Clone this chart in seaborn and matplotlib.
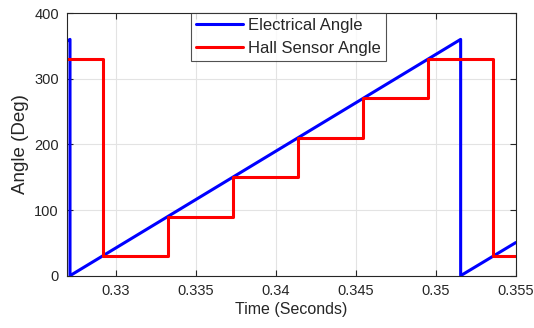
import matplotlib
matplotlib.use("Agg")
import matplotlib.pyplot as plt
from matplotlib.ticker import FuncFormatter
import seaborn as sns

# Electrical angle sawtooth (wraps 360 -> 0)
elec_time = [0.32700, 0.32713, 0.32713, 0.35155, 0.35155, 0.35500]
elec_angle = [358, 360, 0, 360, 0, 50.5]

# Hall sensor angle, 60-degree sectors held between transitions
hall_time = [0.32696, 0.32917, 0.33324, 0.33731, 0.34137, 0.34544, 0.34951, 0.35359, 0.35500]
hall_angle = [330, 30, 90, 150, 210, 270, 330, 30, 30]

x_ticks = [0.33, 0.335, 0.34, 0.345, 0.35, 0.355]
y_ticks = [0, 100, 200, 300, 400]

sns.set_style("whitegrid")
plt.rcParams["font.family"] = ["Liberation Sans", "DejaVu Sans"]

fig = plt.figure(figsize=(5.34, 3.28), dpi=100)
ax = fig.add_axes([0.126, 0.1595, 0.840, 0.8005])

sns.lineplot(x=elec_time, y=elec_angle, ax=ax, color="#0000ff", linewidth=2.2,
             sort=False, estimator=None, label="Electrical Angle")
sns.lineplot(x=hall_time, y=hall_angle, ax=ax, color="#ff0000", linewidth=2.2,
             sort=False, estimator=None, drawstyle="steps-post", label="Hall Sensor Angle")

ax.set_xlim(0.32696, 0.355)
ax.set_ylim(0, 400)
ax.set_xticks(x_ticks)
ax.set_yticks(y_ticks)
ax.xaxis.set_major_formatter(FuncFormatter(lambda v, p: f"{v:g}"))
ax.yaxis.set_major_formatter(FuncFormatter(lambda v, p: f"{v:g}"))

ax.grid(True, color="#e3e3e3", linewidth=0.8)
for s in ax.spines.values():
    s.set_visible(True)
    s.set_color("#262626")
    s.set_linewidth(0.8)
ax.tick_params(axis="both", direction="in", length=4, width=0.8, color="#262626",
               labelsize=10.5, labelcolor="#262626", top=True, right=True,
               bottom=True, left=True, pad=6)

ax.set_xlabel("Time (Seconds)", fontsize=11.5, color="#262626", labelpad=3)
ax.set_ylabel("Angle (Deg)", fontsize=13.5, color="#262626", labelpad=4)

leg = ax.legend(loc="upper left", bbox_to_anchor=(0.2755, 1.0), frameon=True,
                fancybox=False, edgecolor="#262626", fontsize=12,
                handlelength=2.8, handletextpad=0.35, borderpad=0.3,
                labelspacing=0.45, borderaxespad=0)
leg.get_frame().set_linewidth(0.8)
for t in leg.get_texts():
    t.set_color("#262626")

fig.savefig("out.png", dpi=100)
